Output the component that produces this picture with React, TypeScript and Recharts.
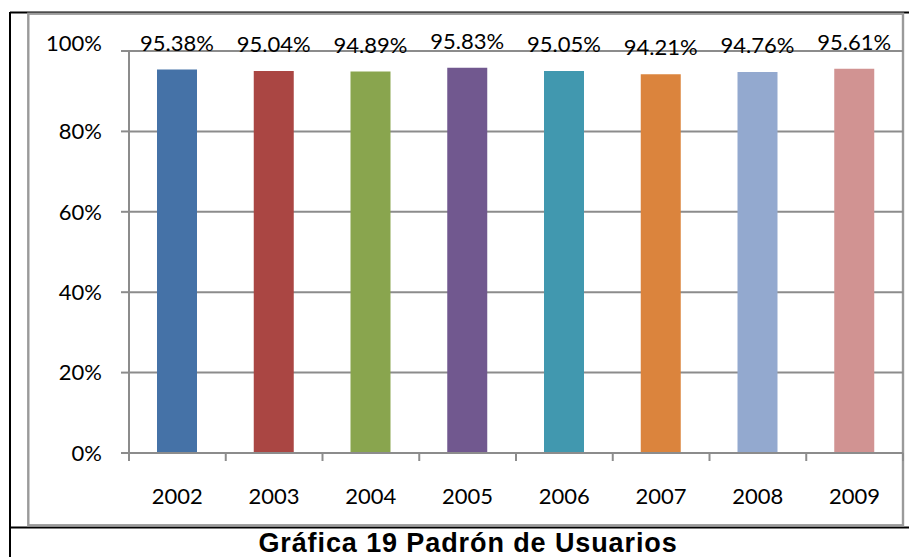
import { BarChart, Bar, XAxis, YAxis, CartesianGrid, Cell, LabelList } from "recharts";

const years = ["2002", "2003", "2004", "2005", "2006", "2007", "2008", "2009"];
const padron = [95.38, 95.04, 94.89, 95.83, 95.05, 94.21, 94.76, 95.61];
const barColors = ["#4572A7", "#AA4643", "#89A54E", "#71588F", "#4198AF", "#DB843D", "#93A9CF", "#D19392"];
const yTicks = [0, 20, 40, 60, 80, 100];

const data = years.map((year, i) => ({ year, value: padron[i] }));

const FONT = "Lato, 'Open Sans', sans-serif";
const AXIS = "#8c8c8c";

function YTick({ x, y, payload }: { x?: number; y?: number; payload?: { value: number } }) {
  const v = payload?.value ?? 0;
  return (
    <text x={x} y={(y ?? 0) + (v === 100 ? -8 : 0)} dy="0.355em" textAnchor="end" fill="#000" fontSize={22} fontFamily={FONT}>
      {`${v}%`}
    </text>
  );
}

// Excel puts the x tick marks between categories, so draw them at the band edges
function XTick({ x, y, payload, index }: { x?: number; y?: number; index?: number; payload?: { value: string; offset?: number } }) {
  const cx = x ?? 0;
  const cy = y ?? 0;
  const half = payload?.offset ?? 0;
  const last = index === years.length - 1;
  return (
    <g>
      <line x1={cx - half} y1={cy} x2={cx - half} y2={cy + 8} stroke={AXIS} strokeWidth={2} />
      {last && <line x1={cx + half} y1={cy} x2={cx + half} y2={cy + 8} stroke={AXIS} strokeWidth={2} />}
      <text x={cx} y={cy + 35} dy="0.71em" textAnchor="middle" fill="#000" fontSize={22} fontFamily={FONT}>
        {payload?.value}
      </text>
    </g>
  );
}

export default function App() {
  return (
    <div style={{ position: "absolute", left: 0, top: 0, width: 909, height: 557, background: "#fff" }}>
      <svg width={909} height={557} style={{ position: "absolute", left: 0, top: 0 }}>
        <line x1={10} y1={12} x2={10} y2={557} stroke="#000" strokeWidth={2} />
        <line x1={10} y1={12.5} x2={909} y2={12.5} stroke="#000" strokeWidth={2} />
        <line x1={10} y1={527.5} x2={909} y2={527.5} stroke="#000" strokeWidth={2} />
        <rect x={28.3} y={13.7} width={874.7} height={511.6} fill="none" stroke="#9a9a9a" strokeWidth={2.4} />
        <text x={468} y={552} textAnchor="middle" fontFamily="'Liberation Sans', Arial, sans-serif" fontWeight="bold" fontSize={27} letterSpacing={0.9} fill="#000">
          Gráfica 19 Padrón de Usuarios
        </text>
      </svg>
      <div style={{ position: "absolute", left: 28, top: 13 }}>
        <BarChart width={876} height={513} data={data} margin={{ top: 38, right: 1, left: 0, bottom: 0 }}>
          <CartesianGrid horizontal vertical={false} stroke={AXIS} strokeWidth={2} />
          <XAxis
            dataKey="year"
            height={73}
            axisLine={{ stroke: AXIS, strokeWidth: 2 }}
            tickLine={false}
            tickSize={0}
            tickMargin={0}
            tick={<XTick />}
            interval={0}
          />
          <YAxis
            width={101}
            domain={[0, 100]}
            ticks={yTicks}
            tickSize={8}
            tickMargin={19}
            axisLine={{ stroke: AXIS, strokeWidth: 2 }}
            tickLine={{ stroke: AXIS, strokeWidth: 2 }}
            tick={<YTick />}
          />
          <Bar dataKey="value" barSize={40} isAnimationActive={false}>
            {data.map((d, i) => (
              <Cell key={d.year} fill={barColors[i]} />
            ))}
            <LabelList
              dataKey="value"
              position="top"
              offset={19}
              fill="#000"
              fontSize={22}
              fontFamily={FONT}
              formatter={(v: number) => `${v.toFixed(2)}%`}
            />
          </Bar>
        </BarChart>
      </div>
    </div>
  );
}
